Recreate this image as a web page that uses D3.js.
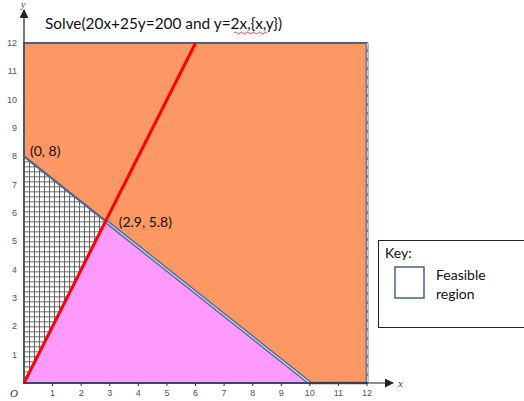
<!DOCTYPE html>
<html><head><meta charset="utf-8">
<script src="https://cdn.jsdelivr.net/npm/d3@7"></script>
<style>body{margin:0;background:#fff}svg{display:block}</style>
</head><body>
<svg id="c" width="524" height="401"></svg>
<script>
const xTicks = [1,2,3,4,5,6,7,8,9,10,11,12];
const yTicks = [1,2,3,4,5,6,7,8,9,10,11,12];
const constraintLine = [[0,8],[10,0]];          // 20x+25y=200
const redLine = [[0,0],[6,12]];                  // y=2x
const intersection = [2.857, 5.714];
const pinkRegion = [[0,0],intersection,[10,0]];
const hatchRegion = [[0,0],[0,8],intersection];
const pointLabels = [{t:"(0, 8)", p:[0,8]}, {t:"(2.9, 5.8)", p:intersection}];
const title = "Solve(20x+25y=200 and y=2x,{x,y})";

const svg = d3.select("#c");
const x = d3.scaleLinear().domain([0,12]).range([24,367]);
const y = d3.scaleLinear().domain([0,12]).range([383,43]);
const line = d3.line().x(d=>x(d[0])).y(d=>y(d[1]));

const defs = svg.append("defs");
const pat = defs.append("pattern").attr("id","hatch").attr("patternUnits","userSpaceOnUse")
  .attr("width",5).attr("height",5).attr("x",x(0)).attr("y",y(8));
pat.append("rect").attr("width",5).attr("height",5).attr("fill","#fff");
pat.append("path").attr("d","M0,0.5H5M0.5,0V5").attr("stroke","#555").attr("stroke-width",0.9);
const arrow = defs.append("marker").attr("id","arr").attr("viewBox","0 0 10 10").attr("refX",9).attr("refY",5)
  .attr("markerWidth",9).attr("markerHeight",9).attr("markerUnits","userSpaceOnUse").attr("orient","auto");
arrow.append("path").attr("d","M0,0L10,5L0,10z").attr("fill","#222");

// orange frame
svg.append("rect").attr("x",x(0)).attr("y",y(12)).attr("width",x(12)-x(0)).attr("height",y(0)-y(12))
  .attr("fill","#fd9763").attr("stroke","#44628f").attr("stroke-width",2);
// right edge strip
svg.append("line").attr("x1",x(12)).attr("x2",x(12)).attr("y1",y(12)).attr("y2",y(0))
  .attr("stroke","#6a7f9f").attr("stroke-width",3);
svg.append("line").attr("x1",x(12)+0.5).attr("x2",x(12)+0.5).attr("y1",y(12)).attr("y2",y(0))
  .attr("stroke","#c8cfdc").attr("stroke-width",1).attr("stroke-dasharray","6,3");

// hatch region
svg.append("path").attr("d",line(hatchRegion)+"Z").attr("fill","url(#hatch)");
// pink region
svg.append("path").attr("d",line(pinkRegion)+"Z").attr("fill","#fe99fe");

// constraint line: upper single, lower double
svg.append("path").attr("d",line([constraintLine[0],intersection])).attr("stroke","#4d6690").attr("stroke-width",2.2).attr("fill","none");
svg.append("path").attr("d",line([intersection,constraintLine[1]])).attr("stroke","#52699a").attr("stroke-width",4).attr("fill","none");
svg.append("path").attr("d",line([intersection,constraintLine[1]])).attr("stroke","#d6dbe8").attr("stroke-width",1.2).attr("fill","none");
// bottom boundary
svg.append("path").attr("d",line([[0,0],[10,0]])).attr("stroke","#5a6f9a").attr("stroke-width",2).attr("fill","none");
svg.append("path").attr("d",line([[10,0],[12,0]])).attr("stroke","#44628f").attr("stroke-width",2.5).attr("fill","none");
// left edge
svg.append("line").attr("x1",x(0)).attr("x2",x(0)).attr("y1",y(12)).attr("y2",y(0)).attr("stroke","#555").attr("stroke-width",1.5);

// red line
svg.append("path").attr("d",line(redLine)).attr("stroke","#ff0000").attr("stroke-width",3).attr("fill","none");

// axes
svg.append("line").attr("x1",x(0)).attr("y1",y(0)).attr("x2",393).attr("y2",y(0)).attr("stroke","#222").attr("stroke-width",1.2).attr("marker-end","url(#arr)");
svg.append("line").attr("x1",x(0)).attr("y1",y(12)).attr("x2",x(0)).attr("y2",10).attr("stroke","#222").attr("stroke-width",1.2).attr("marker-end","url(#arr)");
svg.selectAll(".xt").data(xTicks).join("line").attr("x1",d=>x(d)).attr("x2",d=>x(d)).attr("y1",y(0)).attr("y2",y(0)+3).attr("stroke","#333");
svg.selectAll(".xl").data(xTicks).join("text").attr("x",d=>x(d)).attr("y",396).attr("text-anchor","middle")
  .attr("font-family","Liberation Sans").attr("font-size",9).attr("fill","#555").text(d=>d);
svg.selectAll(".yl").data(yTicks).join("text").attr("x",17).attr("y",d=>y(d)+3).attr("text-anchor","end")
  .attr("font-family","Liberation Sans").attr("font-size",9).attr("fill","#555").text(d=>d);
svg.append("text").attr("x",398).attr("y",387).attr("font-family","Liberation Serif").attr("font-style","italic").attr("font-size",11).attr("fill","#444").text("x");
svg.append("text").attr("x",21).attr("y",8).attr("font-family","Liberation Serif").attr("font-style","italic").attr("font-size",10).attr("fill","#444").text("y");
svg.append("text").attr("x",10).attr("y",397).attr("font-family","Liberation Serif").attr("font-style","italic").attr("font-size",11).attr("fill","#333").text("O");

// title
svg.append("text").attr("x",45).attr("y",29).attr("font-family","Lato").attr("font-size",15).attr("fill","#111")
  .attr("textLength",237).attr("lengthAdjust","spacingAndGlyphs").text(title);
// squiggle
svg.append("path").attr("d","M234,33 q1.5,-2 3,0 t3,0 t3,0 t3,0 t3,0 t3,0 t3,0 t3,0 t3,0 t3,0 t3,0").attr("stroke","#e02020").attr("stroke-width",0.8).attr("fill","none");

// point labels
const plOff = [[6,0],[13,6]];
svg.selectAll(".pl").data(pointLabels).join("text")
  .attr("x",(d,i)=>x(d.p[0])+plOff[i][0]).attr("y",(d,i)=>y(d.p[1])+plOff[i][1])
  .attr("font-family","Lato").attr("font-size",14).attr("fill","#111").text(d=>d.t);

// key
svg.append("rect").attr("x",378.5).attr("y",240.5).attr("width",150).attr("height",87).attr("fill","#fff").attr("stroke","#222").attr("stroke-width",1);
svg.append("text").attr("x",385).attr("y",258).attr("font-family","Lato").attr("font-size",14).attr("fill","#111").text("Key:");
svg.append("rect").attr("x",395).attr("y",267).attr("width",29).attr("height",31).attr("fill","#fff").attr("stroke","#44628f").attr("stroke-width",1.5);
svg.append("text").attr("x",436).attr("y",280).attr("font-family","Lato").attr("font-size",14).attr("fill","#111").text("Feasible");
svg.append("text").attr("x",436).attr("y",299).attr("font-family","Lato").attr("font-size",14).attr("fill","#111").text("region");
</script>
</body></html>
